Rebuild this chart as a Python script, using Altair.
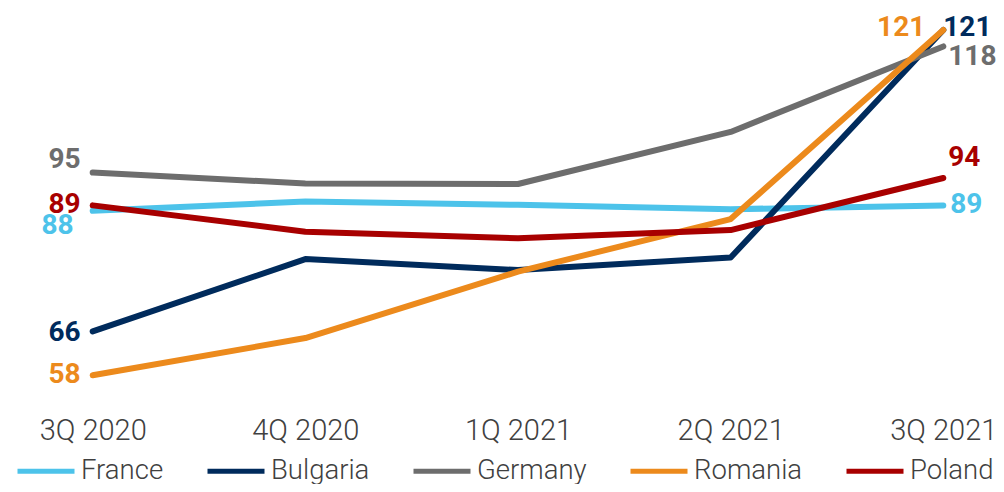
import altair as alt
import pandas as pd

quarters = ["3Q 2020", "4Q 2020", "1Q 2021", "2Q 2021", "3Q 2021"]
countries = ["France", "Bulgaria", "Germany", "Romania", "Poland"]
france = [88, 89.7, 89.1, 88.3, 89]
bulgaria = [66, 79.2, 77.2, 79.5, 121]
germany = [95, 93.0, 92.9, 102.4, 118]
romania = [58, 64.8, 76.9, 86.5, 121]
poland = [89, 84.2, 83.0, 84.5, 94]
colors = ["#4DC3EA", "#002B5C", "#6D6D6D", "#EC8A1C", "#A80000"]

series = dict(zip(countries, [france, bulgaria, germany, romania, poland]))
rows = []
for c in countries:
    for i, (q, v) in enumerate(zip(quarters, series[c])):
        rows.append({"quarter": q, "country": c, "value": v, "idx": i})
df = pd.DataFrame(rows)

# label placement styles (dx, dy, align)
start_style = {
    "France": (-19, 15, "right"),
    "Bulgaria": (-12, 2, "right"),
    "Germany": (-12, -13, "right"),
    "Romania": (-12, 0, "right"),
    "Poland": (-12, 0, "right"),
}
end_style = {
    "France": (7, 0, "left"),
    "Bulgaria": (0, -2, "left"),
    "Germany": (5, 11, "left"),
    "Romania": (-18, -2, "right"),
    "Poland": (5, -20, "left"),
}

LABEL_FONT = "Roboto"
VALUE_FONT = "Roboto"

x_enc = alt.X("quarter:N", sort=quarters,
              scale=alt.Scale(type="point", range=[84.7, 935.3], padding=0),
              axis=alt.Axis(title=None, labelAngle=0, domain=False, ticks=False,
                            grid=False, labelFont=LABEL_FONT, labelFontSize=29,
                            labelFontWeight=300,
                            labelColor="#404040", labelPadding=22,
                            labelBaseline="middle"))
y_enc = alt.Y("value:Q", scale=alt.Scale(domain=[58, 121], range=[367.3, 22]),
              axis=None)
color_scale = alt.Scale(domain=countries, range=colors)

base = alt.Chart(df)

lines = base.mark_line(strokeWidth=6, strokeCap="round", strokeJoin="round").encode(
    x=x_enc, y=y_enc,
    color=alt.Color("country:N", scale=color_scale, sort=countries,
                    legend=alt.Legend(title=None, orient="none", legendX=7, legendY=432,
                                      direction="horizontal", columns=5,
                                      symbolType="stroke", symbolSize=3249,
                                      symbolStrokeWidth=5, labelFont=LABEL_FONT,
                                      labelFontSize=27.5, labelFontWeight=300,
                                      labelColor="#404040", labelBaseline="middle",
                                      columnPadding=33, labelOffset=4, padding=0)),
    order=alt.Order("idx:Q"),
)

layers = [lines]
for c, col in zip(countries, colors):
    dx, dy, al = start_style[c]
    layers.append(
        base.transform_filter((alt.datum.country == c) & (alt.datum.idx == 0))
        .mark_text(dx=dx, dy=dy, align=al, baseline="middle", font=VALUE_FONT,
                   fontWeight="bold", fontSize=28, color=col)
        .encode(x=x_enc, y=y_enc, text=alt.Text("value:Q", format=".0f"))
    )
    dx, dy, al = end_style[c]
    layers.append(
        base.transform_filter((alt.datum.country == c) & (alt.datum.idx == 4))
        .mark_text(dx=dx, dy=dy, align=al, baseline="middle", font=VALUE_FONT,
                   fontWeight="bold", fontSize=28, color=col)
        .encode(x=x_enc, y=y_enc, text=alt.Text("value:Q", format=".0f"))
    )

chart = alt.layer(*layers).properties(
    width=988, height=400,
    autosize=alt.AutoSizeParams(type="none"),
    padding={"left": 0, "top": 0, "right": 0, "bottom": 76},
).configure_view(stroke=None)

chart.save("out.html", embed_options={"renderer": "svg", "actions": False})
